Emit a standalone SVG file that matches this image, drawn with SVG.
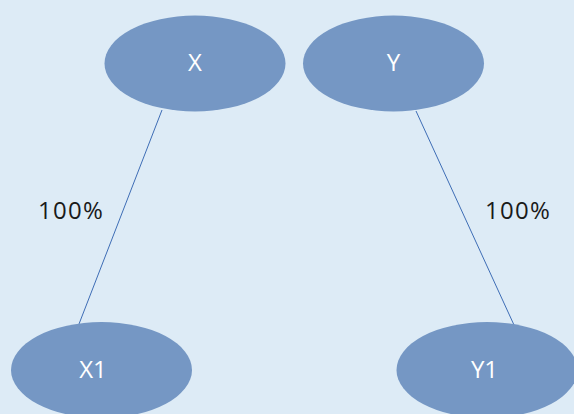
<svg xmlns="http://www.w3.org/2000/svg" width="574" height="414" viewBox="0 0 574 414">
<style>
.node{fill:#7597C4;}
.nt{font-family:"Open Sans","Liberation Sans",sans-serif;font-size:24px;fill:#FFFFFF;text-anchor:middle;}
.lbl{font-family:"Open Sans","Liberation Sans",sans-serif;font-size:24px;fill:#1A1A1A;letter-spacing:1.3px;}
.edge{stroke:#3E6DB5;stroke-width:1;fill:none;}
</style>
<rect x="0" y="0" width="574" height="414" fill="#DDEBF6"/>
<g id="connectors">
<line class="edge" x1="162" y1="110" x2="79" y2="324"/>
<line class="edge" x1="416" y1="111" x2="514" y2="325"/>
<text class="lbl" x="38" y="219">100%</text>
<text class="lbl" x="485" y="219">100%</text>
</g>
<g id="node-X">
<ellipse class="node" cx="195" cy="63.5" rx="90.5" ry="48"/>
<text class="nt" x="195" y="71">X</text>
</g>
<g id="node-Y">
<ellipse class="node" cx="393.5" cy="63.5" rx="90.5" ry="48"/>
<text class="nt" x="393.5" y="71">Y</text>
</g>
<g id="node-X1">
<ellipse class="node" cx="101.5" cy="370" rx="90.5" ry="48"/>
<text class="nt" x="93" y="378">X1</text>
</g>
<g id="node-Y1">
<ellipse class="node" cx="487" cy="370" rx="90.5" ry="48"/>
<text class="nt" x="484.5" y="378">Y1</text>
</g>
</svg>
